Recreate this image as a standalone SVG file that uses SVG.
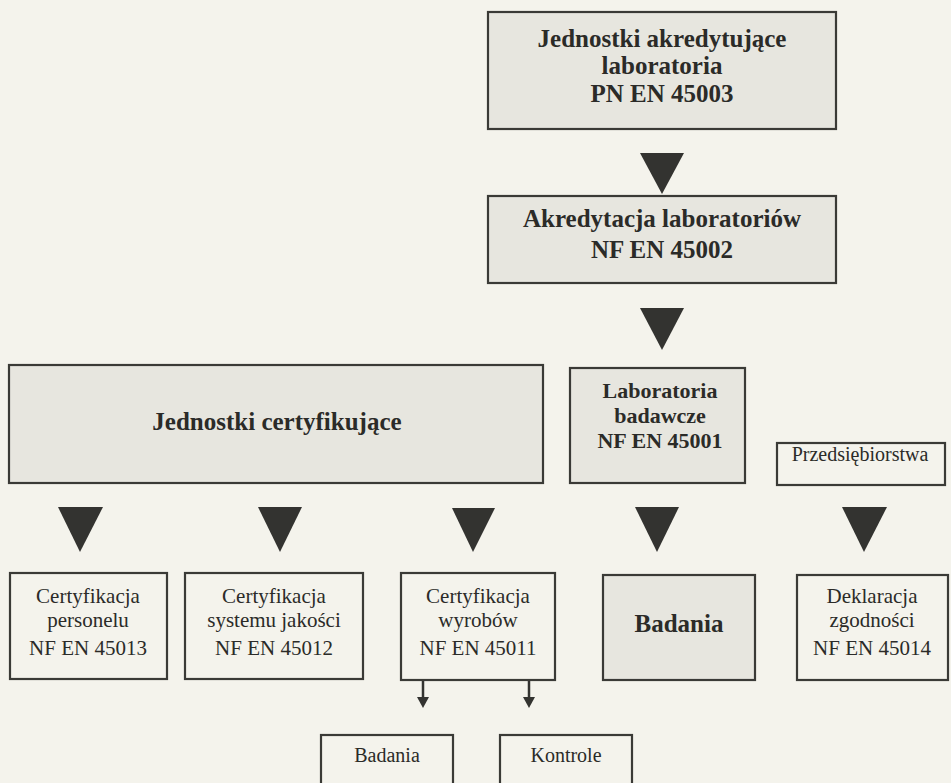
<svg xmlns="http://www.w3.org/2000/svg" width="951" height="783" viewBox="0 0 951 783">
<style>
.bg{fill:#f4f3ec}
.box{fill:#f4f3ec;stroke:#3a3a36;stroke-width:2.2}
.grey{fill:#e7e6df}
.t{font-family:"Liberation Serif","Times New Roman",serif;fill:#2b2b28;text-anchor:middle}
.b{font-weight:bold}
.r{font-size:21px}
.tri{fill:#333330}
.ln{stroke:#333330;stroke-width:2.5;fill:none}
</style>
<rect class="bg" x="0" y="0" width="951" height="783"/>
<g id="connectors">
<polygon class="tri" points="640,153 684,153 662,194"/>
<polygon class="tri" points="640,308 684,308 662,350"/>
<polygon class="tri" points="58,507 103,507 80,552"/>
<polygon class="tri" points="258,507 302,507 280,552"/>
<polygon class="tri" points="452,508 495,508 473,552"/>
<polygon class="tri" points="635,507 679,507 657,552"/>
<polygon class="tri" points="842,507 887,507 864,552"/>
<line class="ln" x1="423" y1="680" x2="423" y2="699"/>
<polygon class="tri" points="417,697 429,697 423,708"/>
<line class="ln" x1="529" y1="680" x2="529" y2="699"/>
<polygon class="tri" points="523,697 535,697 529,708"/>
</g>
<g id="n1">
<rect class="box grey" x="488" y="12" width="348" height="117"/>
<text class="t b" x="662" y="47" font-size="25">Jednostki akredytujące</text>
<text class="t b" x="662" y="74" font-size="25">laboratoria</text>
<text class="t b" x="662" y="102" font-size="25">PN EN 45003</text>
</g>
<g id="n2">
<rect class="box grey" x="488" y="196" width="348" height="87"/>
<text class="t b" x="662" y="227" font-size="25">Akredytacja laboratoriów</text>
<text class="t b" x="662" y="258" font-size="25">NF EN 45002</text>
</g>
<g id="n3">
<rect class="box grey" x="9" y="365" width="534" height="118"/>
<text class="t b" x="277" y="430" font-size="25">Jednostki certyfikujące</text>
</g>
<g id="n4">
<rect class="box grey" x="570" y="368" width="175" height="115"/>
<text class="t b" x="660" y="398" font-size="22">Laboratoria</text>
<text class="t b" x="660" y="423" font-size="22">badawcze</text>
<text class="t b" x="660" y="448" font-size="22">NF EN 45001</text>
</g>
<g id="n5">
<rect class="box" x="777" y="443" width="168" height="42"/>
<text class="t" x="860" y="461" font-size="20">Przedsiębiorstwa</text>
</g>
<g id="n6">
<rect class="box" x="10" y="573" width="157" height="106"/>
<text class="t r" x="88" y="603">Certyfikacja</text>
<text class="t r" x="88" y="627">personelu</text>
<text class="t r" x="88" y="655">NF EN 45013</text>
</g>
<g id="n7">
<rect class="box" x="185" y="573" width="178" height="106"/>
<text class="t r" x="274" y="603">Certyfikacja</text>
<text class="t r" x="274" y="627">systemu jakości</text>
<text class="t r" x="274" y="655">NF EN 45012</text>
</g>
<g id="n8">
<rect class="box" x="401" y="573" width="154" height="107"/>
<text class="t r" x="478" y="603">Certyfikacja</text>
<text class="t r" x="478" y="627">wyrobów</text>
<text class="t r" x="478" y="655">NF EN 45011</text>
</g>
<g id="n9">
<rect class="box grey" x="603" y="575" width="152" height="105"/>
<text class="t b" x="679" y="632" font-size="25">Badania</text>
</g>
<g id="n10">
<rect class="box" x="797" y="575" width="151" height="105"/>
<text class="t r" x="872" y="603">Deklaracja</text>
<text class="t r" x="872" y="627">zgodności</text>
<text class="t r" x="872" y="655">NF EN 45014</text>
</g>
<g id="n11">
<rect class="box" x="321" y="735" width="132" height="60"/>
<text class="t" x="387" y="762" font-size="20">Badania</text>
</g>
<g id="n12">
<rect class="box" x="500" y="735" width="132" height="60"/>
<text class="t" x="566" y="762" font-size="20">Kontrole</text>
</g>
</svg>
